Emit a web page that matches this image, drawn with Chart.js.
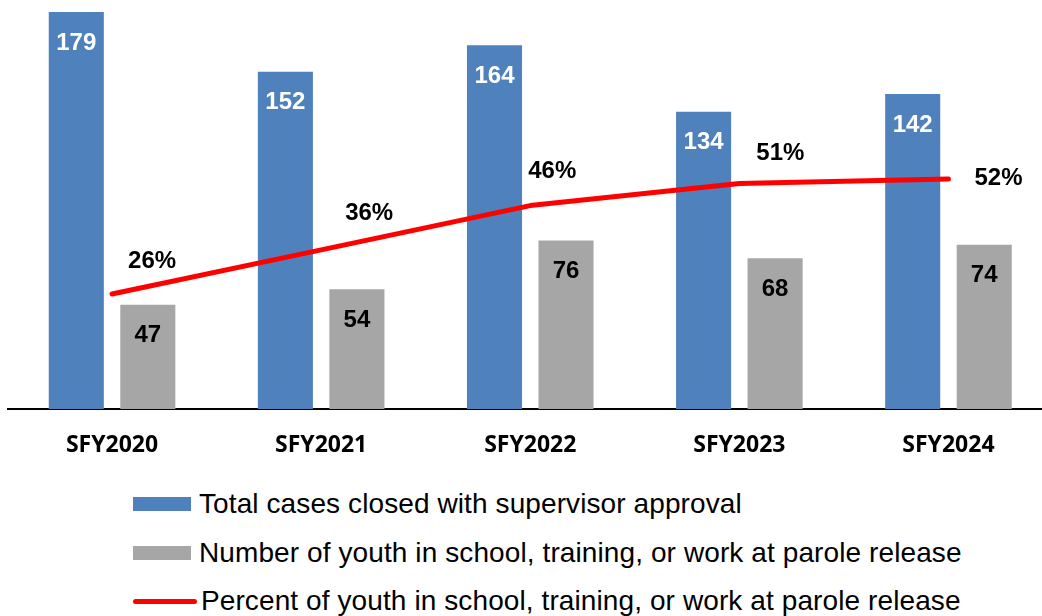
<!DOCTYPE html>
<html>
<head>
<meta charset="utf-8">
<script src="https://cdn.jsdelivr.net/npm/chart.js@4.4.1/dist/chart.umd.min.js"></script>
<style>
  html, body { margin: 0; padding: 0; background: #fff; overflow: hidden; }
  #wrap { position: absolute; left: 0; top: 0; width: 1053px; height: 470px; }
  #legend { position: absolute; left: 133px; top: 480px; font-family: "Liberation Sans", Arial, sans-serif; font-size: 28px; letter-spacing: 0.1px; color: #000; }
  .item { display: flex; align-items: center; height: 48.5px; white-space: nowrap; }
  .swatch { width: 58px; height: 14px; margin-right: 8px; }
  .swatch.line { height: 5px; border-radius: 3px; width: 64px; margin-right: 4px; }
</style>
</head>
<body>
<div id="wrap"><canvas id="chart"></canvas></div>
<div id="legend"></div>
<script>
// fiscal years
const years = ['SFY2020', 'SFY2021', 'SFY2022', 'SFY2023', 'SFY2024'];
// total cases closed with supervisor approval
const casesClosed = [179, 152, 164, 134, 142];
// youth in school, training or work at parole release
const youthEngaged = [47, 54, 76, 68, 74];
// percent of youth in school, training or work
const percentEngaged = [26, 36, 46, 51, 52];

const seriesNames = [
    'Total cases closed with supervisor approval',
    'Number of youth in school, training, or work at parole release',
    'Percent of youth in school, training, or work at parole release'
];

const blue = '#4F81BD';
const gray = '#A6A6A6';
const red = '#FF0000';

// where each percent label sits relative to its point
const pctLabelShift = [[40, -33], [48, -36], [22, -34], [41, -30], [50, -1]];

const valueLabels = {
    id: 'valueLabels',
    afterDatasetsDraw(chart) {
        const ctx = chart.ctx;
        ctx.save();
        ctx.font = 'bold 24px "Liberation Sans", Arial, sans-serif';
        ctx.textAlign = 'center';
        ctx.textBaseline = 'middle';
        [0, 1].forEach(i => {
            const meta = chart.getDatasetMeta(i);
            ctx.fillStyle = i === 0 ? '#fff' : '#000';
            meta.data.forEach((bar, j) => {
                ctx.fillText(chart.data.datasets[i].data[j], bar.x, bar.y + 31);
            });
        });
        const line = chart.getDatasetMeta(2);
        ctx.fillStyle = '#000';
        line.data.forEach((pt, j) => {
            const [dx, dy] = pctLabelShift[j];
            ctx.fillText(percentEngaged[j] + '%', pt.x + dx, pt.y + dy);
        });
        ctx.restore();
    }
};

const chart = new Chart(document.getElementById('chart'), {
    type: 'bar',
    data: {
        labels: years,
        datasets: [
            {
                label: seriesNames[0],
                data: casesClosed,
                backgroundColor: blue,
                categoryPercentage: 0.684,
                barPercentage: 0.77,
                order: 1
            },
            {
                label: seriesNames[1],
                data: youthEngaged,
                backgroundColor: gray,
                categoryPercentage: 0.684,
                barPercentage: 0.77,
                order: 1
            },
            {
                type: 'line',
                label: seriesNames[2],
                data: percentEngaged,
                yAxisID: 'y2',
                borderColor: red,
                backgroundColor: red,
                borderWidth: 5,
                borderCapStyle: 'round',
                borderJoinStyle: 'round',
                pointRadius: 0,
                tension: 0,
                order: 0
            }
        ]
    },
    options: {
        responsive: true,
        maintainAspectRatio: false,
        animation: false,
        layout: { padding: { left: 7.5, right: 0, top: 0, bottom: 0 } },
        scales: {
            x: {
                grid: { display: false, drawTicks: false },
                border: { display: true, color: '#000', width: 2 },
                ticks: {
                    color: '#000',
                    padding: 23,
                    font: { family: '"Open Sans", sans-serif', size: 23, weight: 'bold' }
                },
                afterFit: scale => { scale.height = 61; }
            },
            y: {
                display: false,
                min: 0,
                max: 184.4
            },
            y2: {
                display: false,
                min: 0,
                max: 92.5
            }
        },
        plugins: {
            legend: { display: false },
            tooltip: { enabled: false }
        }
    },
    plugins: [valueLabels]
});

// legend built from the chart's own datasets
const legendBox = document.getElementById('legend');
chart.data.datasets.forEach(ds => {
    const row = document.createElement('div');
    row.className = 'item';
    const sw = document.createElement('span');
    sw.className = ds.type === 'line' ? 'swatch line' : 'swatch';
    sw.style.background = ds.backgroundColor;
    const txt = document.createElement('span');
    txt.textContent = ds.label;
    row.appendChild(sw);
    row.appendChild(txt);
    legendBox.appendChild(row);
});
</script>
</body>
</html>
